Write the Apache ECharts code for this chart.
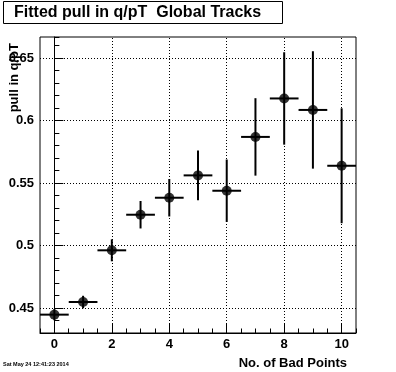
<!DOCTYPE html>
<html>
<head>
<meta charset="utf-8">
<script src="https://cdn.jsdelivr.net/npm/echarts@6/dist/echarts.min.js"></script>
<style>
html,body{margin:0;padding:0;background:#fff;}
#c{width:396px;height:372px;}
</style>
</head>
<body>
<div id="c"></div>
<script>
// ---- data ----
var titleText = 'Fitted pull in q/pT  Global Tracks';
var xTitle = 'No. of Bad Points';
var yTitle = 'pull in q/pT';
var dateText = 'Sat May 24 12:41:23 2014';
var xVals = [0, 1, 2, 3, 4, 5, 6, 7, 8, 9, 10];
var yVals = [0.4447, 0.4548, 0.4962, 0.5247, 0.5383, 0.5562, 0.5439, 0.5870, 0.6178, 0.6086, 0.5639];
var yErr  = [0.0045, 0.005, 0.0088, 0.011, 0.015, 0.020, 0.025, 0.031, 0.037, 0.047, 0.046];
var xErr  = [0.5, 0.5, 0.5, 0.5, 0.5, 0.5, 0.5, 0.5, 0.5, 0.5, 0.5];
var xTicks = [0, 2, 4, 6, 8, 10];
var yTicks = [0.45, 0.5, 0.55, 0.6, 0.65];
var xRange = [-0.5, 10.5];
var yRange = [0.43, 0.667];

var FONT = 'Liberation Sans, Arial, Helvetica, sans-serif';

var pts = xVals.map(function (x, i) { return [x, yVals[i], xErr[i], yErr[i]]; });

var chart = echarts.init(document.getElementById('c'), null, {renderer: 'canvas'});
var dotted = {color: '#000', width: 1, type: [1, 2], opacity: 1};
var gridLines = xTicks.map(function (v) { return {xAxis: v}; })
  .concat(yTicks.map(function (v) { return {yAxis: v}; }));
var option = {
  backgroundColor: '#fff',
  animation: false,
  grid: {left: 40, right: 40, top: 37, bottom: 39, show: true, borderColor: '#000', borderWidth: 1, backgroundColor: 'transparent'},
  xAxis: [{
    type: 'value', min: xRange[0], max: xRange[1],
    axisLine: {show: true, lineStyle: {color: '#000', width: 1}},
    axisTick: {show: true, inside: true, length: 9, customValues: xTicks, lineStyle: {color: '#000', width: 1}},
    axisLabel: {show: true, customValues: xTicks, color: '#000', fontFamily: FONT, fontWeight: 'bold', fontSize: 13, margin: 5},
    splitLine: {show: false}
  }, {
    type: 'value', min: xRange[0], max: xRange[1], interval: 0.5, position: 'bottom',
    axisLine: {show: false},
    axisTick: {show: true, inside: true, length: 4.5, lineStyle: {color: '#000', width: 1}},
    axisLabel: {show: false},
    splitLine: {show: false}
  }],
  yAxis: [{
    type: 'value', min: yRange[0], max: yRange[1],
    axisLine: {show: true, lineStyle: {color: '#000', width: 1}},
    axisTick: {show: true, inside: true, length: 9, customValues: yTicks, lineStyle: {color: '#000', width: 1}},
    axisLabel: {show: true, customValues: yTicks, color: '#000', fontFamily: FONT, fontWeight: 'bold', fontSize: 13, margin: 6},
    splitLine: {show: false}
  }, {
    type: 'value', min: yRange[0], max: yRange[1], interval: 0.01, position: 'left',
    axisLine: {show: false},
    axisTick: {show: true, inside: true, length: 5, lineStyle: {color: '#000', width: 1}},
    axisLabel: {show: false},
    splitLine: {show: false}
  }],
  graphic: [
    {type: 'rect', left: 3, top: 1, shape: {width: 279, height: 22}, style: {fill: '#fff', stroke: '#000', lineWidth: 1}},
    {type: 'text', x: 14, y: 13, style: {text: titleText, font: 'bold 16px ' + FONT, fill: '#000', textAlign: 'left', textVerticalAlign: 'middle'}},
    {type: 'text', x: 14, y: 43, rotation: Math.PI / 2, style: {text: yTitle, font: 'bold 13px ' + FONT, fill: '#000', textAlign: 'right', textVerticalAlign: 'middle'}},
    {type: 'text', x: 347, y: 363, style: {text: xTitle, font: 'bold 13px ' + FONT, fill: '#000', textAlign: 'right', textVerticalAlign: 'middle'}},
    {type: 'text', x: 3, y: 364, style: {text: dateText, font: 'bold 5.5px ' + FONT, fill: '#000', textAlign: 'left', textVerticalAlign: 'middle'}}
  ],
  series: [{
    type: 'custom',
    xAxisIndex: 0, yAxisIndex: 0,
    data: pts,
    clip: true,
    renderItem: function (params, api) {
      var x = api.value(0), y = api.value(1), ex = api.value(2), ey = api.value(3);
      var l = api.coord([x - ex, y]), r = api.coord([x + ex, y]);
      var t = api.coord([x, y + ey]), b = api.coord([x, y - ey]);
      var st = {stroke: '#000', lineWidth: 2};
      return {type: 'group', children: [
        {type: 'line', shape: {x1: l[0], y1: l[1], x2: r[0], y2: r[1]}, style: st},
        {type: 'line', shape: {x1: t[0], y1: t[1], x2: b[0], y2: b[1]}, style: st}
      ]};
    },
    markLine: {
      silent: true,
      symbol: ['none', 'none'],
      label: {show: false},
      lineStyle: dotted,
      emphasis: {disabled: true},
      data: gridLines
    },
    z: 3
  }, {
    type: 'scatter',
    xAxisIndex: 0, yAxisIndex: 0,
    data: pts.map(function (p) { return [p[0], p[1]]; }),
    symbol: 'circle', symbolSize: 10,
    itemStyle: {color: '#000'},
    z: 4
  }]
};
chart.setOption(option);
</script>
</body>
</html>
